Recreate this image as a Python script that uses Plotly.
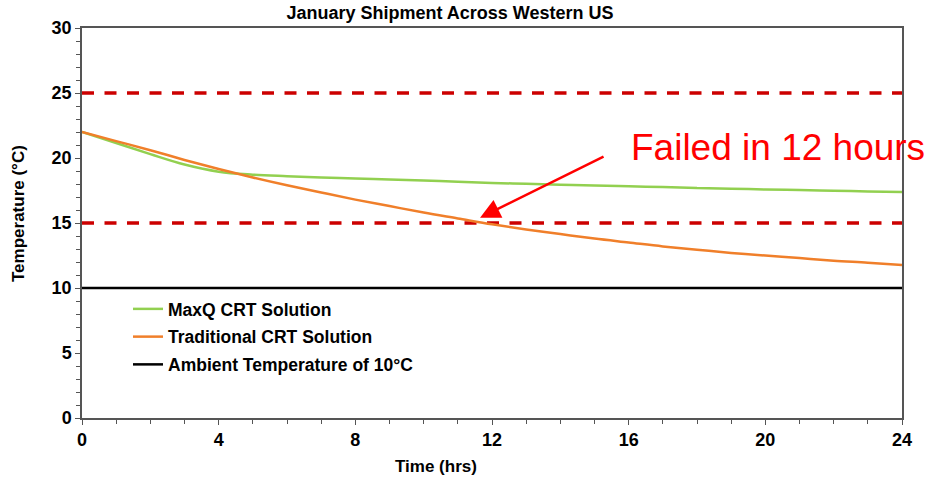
import plotly.graph_objects as go

hours = list(range(0, 25))
maxq = [22.0, 21.15, 20.3, 19.5, 18.95, 18.72, 18.6, 18.5, 18.42, 18.35, 18.27, 18.18, 18.08,
        18.02, 17.95, 17.88, 17.82, 17.76, 17.7, 17.64, 17.58, 17.53, 17.48, 17.43, 17.38]
traditional = [22.0, 21.3, 20.6, 19.85, 19.15, 18.5, 17.9, 17.35, 16.8, 16.3, 15.8, 15.35, 14.9,
               14.5, 14.15, 13.8, 13.5, 13.2, 12.95, 12.7, 12.5, 12.3, 12.1, 11.95, 11.77]
ambient = [10.0] * len(hours)
limits = [25, 15]
x_ticks = [0, 4, 8, 12, 16, 20, 24]
y_ticks = [0, 5, 10, 15, 20, 25, 30]

FONT = "Liberation Sans, Arial, sans-serif"
W, H = 928, 477
L, R, T, B = 82, 26, 28, 59
PW, PH = W - L - R, H - T - B


def px(xp):
    return (xp - L) / PW


def py(yp):
    return (H - B - yp) / PH


fig = go.Figure()
for lim in limits:
    fig.add_trace(go.Scatter(x=[hours[0], hours[-1]], y=[lim, lim], mode="lines",
                             line=dict(color="#CC0000", width=3.5, dash="12px,10.5px"),
                             showlegend=False, hoverinfo="skip"))
fig.add_trace(go.Scatter(x=hours, y=maxq, mode="lines", name="MaxQ CRT Solution",
                         line=dict(color="#92D050", width=2.5, shape="spline"), legendgroup="a"))
fig.add_trace(go.Scatter(x=hours, y=traditional, mode="lines", name="Traditional CRT Solution",
                         line=dict(color="#F07F2A", width=2.5, shape="spline"), legendgroup="b"))
fig.add_trace(go.Scatter(x=hours, y=ambient, mode="lines", name="Ambient Temperature of 10°C",
                         line=dict(color="#000000", width=2.5), legendgroup="c"))

axis_common = dict(showgrid=False, zeroline=False, automargin=False,
                   showline=True, linecolor="#555555", linewidth=1.5, mirror=True,
                   ticks="outside", ticklen=5, tickcolor="#555555",
                   tickfont=dict(size=18, weight="bold", family=FONT, color="black"))

fig.update_layout(
    width=W, height=H,
    margin=dict(l=L, r=R, t=T, b=B),
    paper_bgcolor="white", plot_bgcolor="white",
    font=dict(family=FONT, color="black"),
    title=dict(text="January Shipment Across Western US", x=450 / W, xanchor="center",
               y=1 - 13 / H, yanchor="middle",
               font=dict(size=18, weight="bold", family=FONT, color="black")),
    legend=dict(x=px(128), y=py(291), xanchor="left", yanchor="top", bgcolor="rgba(0,0,0,0)",
                font=dict(size=17.5, weight="bold", family=FONT, color="black"),
                tracegroupgap=2, itemwidth=30),
    xaxis=dict(range=[0, 24], tickvals=x_ticks,
               minor=dict(dtick=1, ticks="outside", ticklen=4, tickcolor="#555555"),
               **axis_common),
    yaxis=dict(range=[0, 30], tickvals=y_ticks,
               minor=dict(dtick=1, ticks="outside", ticklen=4, tickcolor="#555555"),
               **axis_common),
)

# axis titles
fig.add_annotation(x=px(436), y=py(466), xref="paper", yref="paper", text="Time (hrs)",
                   showarrow=False, xanchor="center", yanchor="middle",
                   font=dict(size=17, weight="bold", family=FONT, color="black"))
fig.add_annotation(x=px(18), y=py(214), xref="paper", yref="paper", text="Temperature (°C)",
                   showarrow=False, textangle=-90, xanchor="center", yanchor="middle",
                   font=dict(size=17, weight="bold", family=FONT, color="black"))

# failure callout
fig.add_annotation(x=11.65, y=15.4, xref="x", yref="y", ax=125, ay=-62, text="",
                   showarrow=True, arrowhead=2, arrowsize=1.6, arrowwidth=2.5, arrowcolor="#FF0000")
fig.add_annotation(x=px(778), y=py(147), xref="paper", yref="paper", text="Failed in 12 hours",
                   showarrow=False, xanchor="center", yanchor="middle",
                   font=dict(size=37, family=FONT, color="#FF0000"))

fig.write_html("out.html")
